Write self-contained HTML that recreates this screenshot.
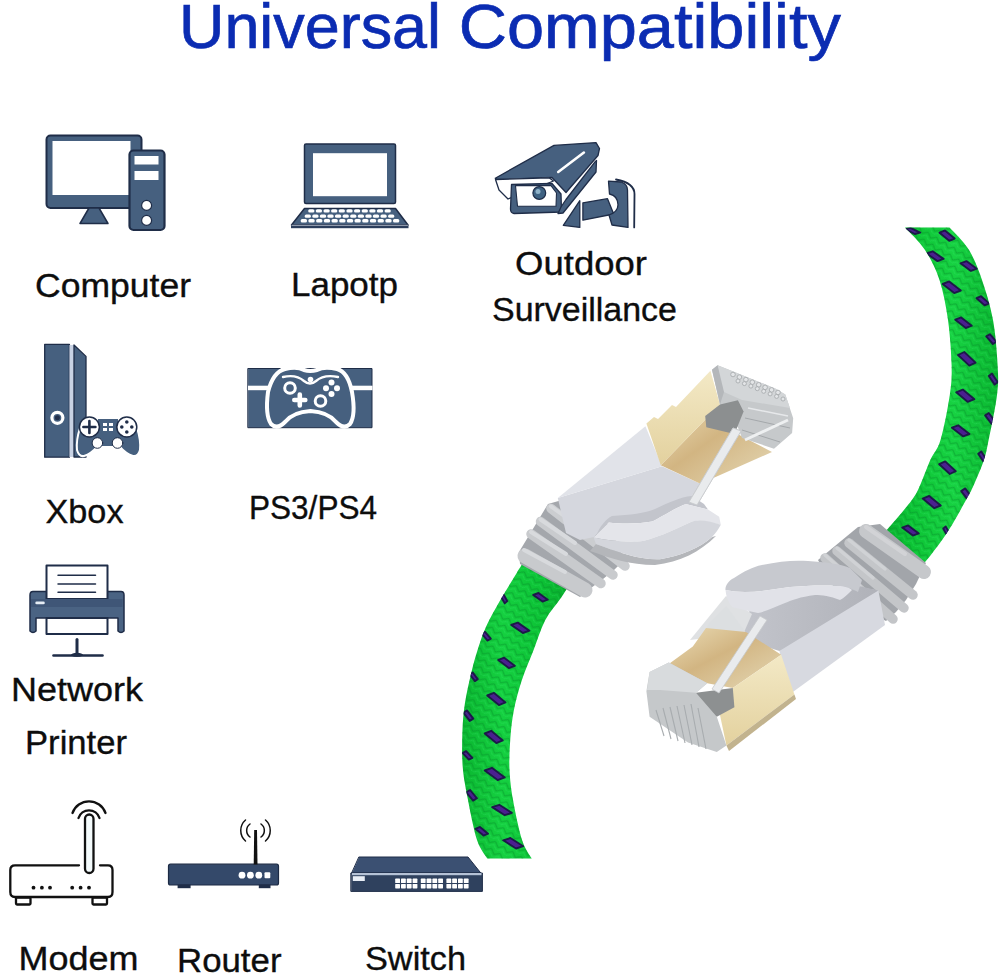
<!DOCTYPE html>
<html><head><meta charset="utf-8">
<style>
html,body{margin:0;padding:0;background:#fff;}
body{width:1000px;height:974px;overflow:hidden;position:relative;}
svg{position:absolute;left:0;top:0;}
.t{font-family:"Liberation Sans",sans-serif;fill:#0d0d0d;}
.ti{font-family:"Liberation Sans",sans-serif;fill:#0b2cb2;}
</style></head><body>
<svg width="1000" height="974" viewBox="0 0 1000 974">

<defs>
<linearGradient id="gT" x1="0" y1="0" x2="1" y2="0">
<stop offset="0" stop-color="#07a02a"/><stop offset="0.3" stop-color="#0cc234"/><stop offset="0.65" stop-color="#17d242"/><stop offset="1" stop-color="#0ab630"/>
</linearGradient>
<linearGradient id="gB" x1="0" y1="0" x2="1" y2="0">
<stop offset="0" stop-color="#0ab630"/><stop offset="0.35" stop-color="#15d040"/><stop offset="0.7" stop-color="#0cc235"/><stop offset="1" stop-color="#07a62a"/>
</linearGradient>
<clipPath id="cclip"><path d="M905.0,227.5 C908.3,231.2 919.2,241.2 925.0,250.0 C930.8,258.8 935.7,268.3 939.5,280.0 C943.3,291.7 946.0,305.8 948.0,320.0 C950.0,334.2 951.3,352.5 951.6,365.0 C951.9,377.5 951.6,382.5 949.8,395.0 C947.9,407.5 943.8,429.2 940.5,440.0 C937.2,450.8 933.7,452.5 930.3,460.0 C926.9,467.5 923.3,478.3 920.2,485.0 C917.1,491.7 917.2,492.8 911.9,500.0 C906.6,507.2 895.5,520.0 888.5,528.0 C881.5,536.0 873.1,544.7 870.0,548.0 L910.0,578.0 C913.0,574.8 921.5,566.5 928.0,558.5 C934.5,550.5 942.5,539.8 948.8,530.0 C955.1,520.2 961.8,507.5 966.0,500.0 C970.2,492.5 970.8,491.7 973.8,485.0 C976.8,478.3 981.4,467.5 983.9,460.0 C986.4,452.5 986.4,450.8 988.6,440.0 C990.8,429.2 995.5,407.5 997.0,395.0 C998.5,382.5 998.3,377.5 997.6,365.0 C996.9,352.5 995.6,334.2 993.0,320.0 C990.4,305.8 986.0,291.7 982.0,280.0 C978.0,268.3 974.4,258.8 969.0,250.0 C963.6,241.2 952.8,231.2 949.5,227.5 Z"/><path d="M545.0,530.0 C540.3,537.2 526.0,558.0 516.7,573.0 C507.4,588.0 495.8,607.2 489.3,620.0 C482.8,632.8 480.9,640.0 477.6,650.0 C474.3,660.0 471.9,670.0 469.6,680.0 C467.3,690.0 465.2,700.0 464.0,710.0 C462.8,720.0 462.4,730.0 462.2,740.0 C462.0,750.0 462.0,760.0 463.0,770.0 C464.0,780.0 465.7,788.3 468.0,800.0 C470.3,811.7 473.8,830.2 477.0,840.0 C480.2,849.8 485.6,855.5 487.3,858.6 L531.7,858.6 C530.1,855.5 525.1,849.8 522.0,840.0 C518.9,830.2 515.1,811.7 513.0,800.0 C510.9,788.3 510.0,780.0 509.5,770.0 C509.0,760.0 509.5,750.0 510.2,740.0 C510.9,730.0 511.9,720.0 513.9,710.0 C515.9,700.0 518.6,690.0 521.9,680.0 C525.2,670.0 529.7,660.0 533.6,650.0 C537.5,640.0 540.7,628.7 545.3,620.0 C549.9,611.3 556.2,605.1 561.2,597.6 C566.2,590.1 572.7,578.8 575.0,575.0 Z"/></clipPath>
<pattern id="braid" width="10" height="8" patternUnits="userSpaceOnUse" patternTransform="rotate(30)">
<path d="M0,1 L5,5 L10,1" fill="none" stroke="#06902a" stroke-width="1.2"/>
<path d="M0,4.5 L5,8.5 L10,4.5" fill="none" stroke="#40f07c" stroke-width="0.8" opacity="0.7"/>
</pattern>
</defs>


<!-- CABLE -->
<g id="cable">
<path d="M905.0,227.5 C908.3,231.2 919.2,241.2 925.0,250.0 C930.8,258.8 935.7,268.3 939.5,280.0 C943.3,291.7 946.0,305.8 948.0,320.0 C950.0,334.2 951.3,352.5 951.6,365.0 C951.9,377.5 951.6,382.5 949.8,395.0 C947.9,407.5 943.8,429.2 940.5,440.0 C937.2,450.8 933.7,452.5 930.3,460.0 C926.9,467.5 923.3,478.3 920.2,485.0 C917.1,491.7 917.2,492.8 911.9,500.0 C906.6,507.2 895.5,520.0 888.5,528.0 C881.5,536.0 873.1,544.7 870.0,548.0 L910.0,578.0 C913.0,574.8 921.5,566.5 928.0,558.5 C934.5,550.5 942.5,539.8 948.8,530.0 C955.1,520.2 961.8,507.5 966.0,500.0 C970.2,492.5 970.8,491.7 973.8,485.0 C976.8,478.3 981.4,467.5 983.9,460.0 C986.4,452.5 986.4,450.8 988.6,440.0 C990.8,429.2 995.5,407.5 997.0,395.0 C998.5,382.5 998.3,377.5 997.6,365.0 C996.9,352.5 995.6,334.2 993.0,320.0 C990.4,305.8 986.0,291.7 982.0,280.0 C978.0,268.3 974.4,258.8 969.0,250.0 C963.6,241.2 952.8,231.2 949.5,227.5 Z" fill="url(#gT)"/>
<path d="M905.0,227.5 C908.3,231.2 919.2,241.2 925.0,250.0 C930.8,258.8 935.7,268.3 939.5,280.0 C943.3,291.7 946.0,305.8 948.0,320.0 C950.0,334.2 951.3,352.5 951.6,365.0 C951.9,377.5 951.6,382.5 949.8,395.0 C947.9,407.5 943.8,429.2 940.5,440.0 C937.2,450.8 933.7,452.5 930.3,460.0 C926.9,467.5 923.3,478.3 920.2,485.0 C917.1,491.7 917.2,492.8 911.9,500.0 C906.6,507.2 895.5,520.0 888.5,528.0 C881.5,536.0 873.1,544.7 870.0,548.0 L910.0,578.0 C913.0,574.8 921.5,566.5 928.0,558.5 C934.5,550.5 942.5,539.8 948.8,530.0 C955.1,520.2 961.8,507.5 966.0,500.0 C970.2,492.5 970.8,491.7 973.8,485.0 C976.8,478.3 981.4,467.5 983.9,460.0 C986.4,452.5 986.4,450.8 988.6,440.0 C990.8,429.2 995.5,407.5 997.0,395.0 C998.5,382.5 998.3,377.5 997.6,365.0 C996.9,352.5 995.6,334.2 993.0,320.0 C990.4,305.8 986.0,291.7 982.0,280.0 C978.0,268.3 974.4,258.8 969.0,250.0 C963.6,241.2 952.8,231.2 949.5,227.5 Z" fill="url(#braid)" opacity="0.5"/>
<path d="M545.0,530.0 C540.3,537.2 526.0,558.0 516.7,573.0 C507.4,588.0 495.8,607.2 489.3,620.0 C482.8,632.8 480.9,640.0 477.6,650.0 C474.3,660.0 471.9,670.0 469.6,680.0 C467.3,690.0 465.2,700.0 464.0,710.0 C462.8,720.0 462.4,730.0 462.2,740.0 C462.0,750.0 462.0,760.0 463.0,770.0 C464.0,780.0 465.7,788.3 468.0,800.0 C470.3,811.7 473.8,830.2 477.0,840.0 C480.2,849.8 485.6,855.5 487.3,858.6 L531.7,858.6 C530.1,855.5 525.1,849.8 522.0,840.0 C518.9,830.2 515.1,811.7 513.0,800.0 C510.9,788.3 510.0,780.0 509.5,770.0 C509.0,760.0 509.5,750.0 510.2,740.0 C510.9,730.0 511.9,720.0 513.9,710.0 C515.9,700.0 518.6,690.0 521.9,680.0 C525.2,670.0 529.7,660.0 533.6,650.0 C537.5,640.0 540.7,628.7 545.3,620.0 C549.9,611.3 556.2,605.1 561.2,597.6 C566.2,590.1 572.7,578.8 575.0,575.0 Z" fill="url(#gB)"/>
<path d="M545.0,530.0 C540.3,537.2 526.0,558.0 516.7,573.0 C507.4,588.0 495.8,607.2 489.3,620.0 C482.8,632.8 480.9,640.0 477.6,650.0 C474.3,660.0 471.9,670.0 469.6,680.0 C467.3,690.0 465.2,700.0 464.0,710.0 C462.8,720.0 462.4,730.0 462.2,740.0 C462.0,750.0 462.0,760.0 463.0,770.0 C464.0,780.0 465.7,788.3 468.0,800.0 C470.3,811.7 473.8,830.2 477.0,840.0 C480.2,849.8 485.6,855.5 487.3,858.6 L531.7,858.6 C530.1,855.5 525.1,849.8 522.0,840.0 C518.9,830.2 515.1,811.7 513.0,800.0 C510.9,788.3 510.0,780.0 509.5,770.0 C509.0,760.0 509.5,750.0 510.2,740.0 C510.9,730.0 511.9,720.0 513.9,710.0 C515.9,700.0 518.6,690.0 521.9,680.0 C525.2,670.0 529.7,660.0 533.6,650.0 C537.5,640.0 540.7,628.7 545.3,620.0 C549.9,611.3 556.2,605.1 561.2,597.6 C566.2,590.1 572.7,578.8 575.0,575.0 Z" fill="url(#braid)" opacity="0.5"/>
<g fill="#4b1f8f" stroke="#1c1a48" stroke-width="1.9" stroke-linejoin="round" clip-path="url(#cclip)">
<polygon points="905.1,229.2 910.5,227.9 920.2,232.7 914.8,234.0"/>
<polygon points="926.6,253.5 932.7,251.3 943.6,258.9 937.5,261.1"/>
<polygon points="942.6,284.0 949.2,281.4 960.8,290.5 954.2,293.1"/>
<polygon points="955.2,319.7 961.2,317.4 971.8,325.7 965.8,328.0"/>
<polygon points="958.0,355.0 964.3,352.0 975.6,362.6 969.3,365.6"/>
<polygon points="956.2,392.3 962.8,389.6 974.4,399.2 967.8,401.9"/>
<polygon points="951.9,427.7 958.2,425.3 969.5,434.0 963.2,436.4"/>
<polygon points="939.2,464.2 945.2,461.4 955.8,471.2 949.8,474.0"/>
<polygon points="922.7,498.6 929.2,495.9 940.8,505.5 934.3,508.2"/>
<polygon points="902.2,527.6 908.2,525.4 918.8,533.4 912.8,535.6"/>
<polygon points="533.2,594.9 538.5,593.0 547.8,599.7 542.5,601.6"/>
<polygon points="511.2,624.9 517.8,622.6 529.5,630.7 522.9,633.0"/>
<polygon points="498.2,660.0 504.2,657.7 514.8,665.8 508.8,668.1"/>
<polygon points="487.2,695.5 493.8,692.8 505.5,702.4 498.9,705.1"/>
<polygon points="484.7,733.5 491.2,730.8 502.8,740.4 496.3,743.1"/>
<polygon points="484.7,770.5 491.9,767.8 504.8,777.4 497.6,780.1"/>
<polygon points="492.2,807.1 499.3,804.8 511.8,812.9 504.7,815.2"/>
<polygon points="503.2,840.3 510.4,838.0 523.2,846.2 516.0,848.5"/>
<polygon points="939.5,232.7 945.0,230.4 954.7,238.5 949.2,240.8"/>
<polygon points="960.5,263.3 966.4,261.1 976.8,268.7 970.9,270.9"/>
<polygon points="976.5,298.2 981.1,296.2 989.2,303.4 984.6,305.4"/>
<polygon points="986.2,336.4 989.9,334.2 996.6,341.8 992.9,344.0"/>
<polygon points="988.8,376.0 992.0,373.6 997.8,382.2 994.6,384.6"/>
<polygon points="985.1,415.4 988.8,413.0 995.3,421.6 991.6,424.0"/>
<polygon points="978.2,453.7 981.3,451.4 986.8,459.7 983.7,462.0"/>
<polygon points="961.2,491.1 965.2,488.4 972.4,497.9 968.4,500.6"/>
<polygon points="943.2,528.6 945.7,526.4 950.2,534.4 947.7,536.6"/>
<polygon points="500.2,595.3 502.8,593.0 507.3,601.1 504.7,603.4"/>
<polygon points="481.7,633.7 485.0,631.8 490.8,638.7 487.5,640.6"/>
<polygon points="469.7,674.3 472.6,672.4 477.8,679.2 474.9,681.1"/>
<polygon points="463.4,712.7 467.0,710.4 473.3,718.6 469.7,720.9"/>
<polygon points="462.5,753.0 466.1,751.2 472.4,757.8 468.8,759.6"/>
<polygon points="466.2,792.3 470.1,790.0 477.0,798.3 473.1,800.6"/>
<polygon points="475.4,828.8 480.0,826.9 488.1,833.7 483.5,835.6"/>
</g>
</g>

<!-- CONNECTORS -->
<defs>
<linearGradient id="goldL" x1="0" y1="0" x2="1" y2="1">
<stop offset="0" stop-color="#eadcb6"/><stop offset="0.45" stop-color="#d2b582"/><stop offset="0.75" stop-color="#dcc89e"/><stop offset="1" stop-color="#e8dcc0"/>
</linearGradient>
<linearGradient id="goldF" x1="0" y1="0" x2="0" y2="1">
<stop offset="0" stop-color="#f3e9c6"/><stop offset="1" stop-color="#e3d19e"/>
</linearGradient>
<linearGradient id="bodyL" x1="0" y1="0" x2="1" y2="1">
<stop offset="0" stop-color="#dcdee2"/><stop offset="1" stop-color="#cdd0d4"/>
</linearGradient>
<linearGradient id="underR" x1="0" y1="0" x2="1" y2="0">
<stop offset="0" stop-color="#c8cad1"/><stop offset="1" stop-color="#b0b2b9"/>
</linearGradient>
</defs>
<g id="connL" stroke-linejoin="round">
<!-- boot base -->
<polygon points="519,552 548,504 562,500 610,525 624,560 614,570 603,579 591,588 580,597 520,564" fill="#a4a7ac"/>
<g stroke-linecap="round" fill="none">
<line x1="551" y1="508.5" x2="625" y2="566" stroke="#cbcdd0" stroke-width="9.5"/>
<line x1="540.5" y1="521.5" x2="613" y2="575" stroke="#c9cbce" stroke-width="9.5"/>
<line x1="531" y1="534" x2="601" y2="583.5" stroke="#c8cacd" stroke-width="9.5"/>
<line x1="525" y1="556" x2="585" y2="590" stroke="#c8cacd" stroke-width="15"/>
<line x1="551" y1="506.5" x2="585" y2="531" stroke="#d8dadd" stroke-width="4"/>
<line x1="540.5" y1="519.5" x2="575" y2="543" stroke="#d8dadd" stroke-width="4"/>
<line x1="531" y1="532" x2="566" y2="554" stroke="#d8dadd" stroke-width="4"/>
<line x1="524" y1="550" x2="565" y2="572" stroke="#d8dadd" stroke-width="4"/>
</g>
<!-- body side face (big) -->
<polygon points="557.8,498 662,466.3 700.4,483.8 691.7,503 650,511.7 608,522.2 594,537 580,540 566,533" fill="#d5d7de"/>
<!-- body top face (narrow) -->
<polygon points="557.8,498 645.4,426.2 662,466.3" fill="#e1e3e9"/>
<!-- hook inner shadow -->
<path d="M596,536 C600,526 606,519 612,516 C630,515 645,513 655,509 C668,503 680,497 692,496 L704,504 L708,509.6 L685.6,504 C675,508 660,518 652,521.6 C640,524 620,524 608.8,522.4 L593.6,537.6 Z" fill="#c3c5cc"/>
<!-- latch guard -->
<path d="M596,544 C620,553 640,560 660,559.2 C680,556 700,548 712,537 L716,536 C700,552 680,562 655,565 C630,565 610,558 590,551 Z" fill="#b4b6ba"/>
<path d="M593.6,537.6 L608.8,522.4 C620,524 640,524 652,521.6 C660,518 675,508 685.6,504 L708,509.6 L719.2,516.8 L720.8,524.8 C710,523 700,519 692,521.6 C680,527 660,537 644,540.8 C630,543 610,541 593.6,537.6 Z" fill="#e4e5ea"/>
<path d="M593.6,537.6 C610,541 630,543 644,540.8 C660,537 680,527 692,521.6 C700,519 712,522 720.8,524.8 C718,530 716,533 712,537 C700,548 680,556 660,559.2 C640,560 620,553 596,544 Z" fill="#d4d6dc"/>
<!-- gold lower -->
<polygon points="660.8,465.2 720,404.4 736,433.2 772,452 700.4,483.8" fill="url(#goldL)"/>
<!-- gold front -->
<polygon points="646.4,423.6 654,417 658,419 672,405 676,407 710.4,370.8 720,404.4 660.8,465.2" fill="url(#goldF)"/>
<!-- clear tip -->
<polygon points="712,369.7 717.6,365.2 734.5,372 776.3,388.9 785.3,394.5 793.2,418.2 792.1,433 774,448.7 742,438 737.9,427.3 720,404.4" fill="#c6c9cb"/>
<polygon points="717.6,365.2 734.5,372 776.3,388.9 785.3,394.5 790,408 742,400 724,392 716,380" fill="#d3d6d8"/>
<g fill="#e3e5e7" stroke="#a3a7aa" stroke-width="0.8">
<circle cx="733.0" cy="374.5" r="2.3"/>
<circle cx="739.4" cy="377.1" r="2.3"/>
<circle cx="745.9" cy="379.6" r="2.3"/>
<circle cx="752.3" cy="382.2" r="2.3"/>
<circle cx="758.7" cy="384.8" r="2.3"/>
<circle cx="765.1" cy="387.4" r="2.3"/>
<circle cx="771.6" cy="389.9" r="2.3"/>
<circle cx="778.0" cy="392.5" r="2.3"/>
<circle cx="738.0" cy="381.0" r="2"/>
<circle cx="744.4" cy="383.6" r="2"/>
<circle cx="750.9" cy="386.1" r="2"/>
<circle cx="757.3" cy="388.7" r="2"/>
<circle cx="763.7" cy="391.3" r="2"/>
<circle cx="770.1" cy="393.9" r="2"/>
<circle cx="776.6" cy="396.4" r="2"/>
<circle cx="783.0" cy="399.0" r="2"/>
</g>
<polygon points="705.2,416 720,404.4 737.9,400.2 743.6,411.5 734.5,434 706.3,427.3" fill="#8c8f90"/>
<polygon points="712,369.7 717.6,365.2 724,392 720,404.4" fill="#b4b7ba"/>
<g stroke="#a4a8ab" stroke-width="1">
<line x1="745" y1="418" x2="790" y2="428"/><line x1="742" y1="430" x2="780" y2="442"/>
</g>
<line x1="748" y1="408" x2="788" y2="416" stroke="#e6e8ea" stroke-width="1.6"/>
<polygon points="733,428 741,431 697,505 689,502" fill="#e9ebed" stroke="#c6c9cc" stroke-width="0.8"/>
</g>
<line x1="745" y1="440" x2="788" y2="420" stroke="#eef0f1" stroke-width="3"/>
<polygon points="733,428 741,431 697,505 689,502" fill="#e9ebed" stroke="#c6c9cc" stroke-width="0.8"/>
</g>
<g id="connR" stroke-linejoin="round">
<!-- boot base -->
<polygon points="818,560 858,527 880,524 926,563 916,584 906,600 896,612 886,621 840,598" fill="#a2a5aa"/>
<g stroke-linecap="round" fill="none">
<line x1="866" y1="531" x2="924" y2="572" stroke="#c6c8cb" stroke-width="14"/>
<line x1="849" y1="543" x2="913" y2="595" stroke="#c4c6c9" stroke-width="9.5"/>
<line x1="837" y1="551" x2="904" y2="608" stroke="#c4c6c9" stroke-width="9.5"/>
<line x1="825" y1="558" x2="893" y2="619" stroke="#c3c5c8" stroke-width="9.5"/>
<line x1="866" y1="527" x2="905" y2="554" stroke="#d2d3d6" stroke-width="4"/>
<line x1="849" y1="540" x2="885" y2="569" stroke="#d0d2d5" stroke-width="3.5"/>
<line x1="837" y1="548" x2="873" y2="578" stroke="#d0d2d5" stroke-width="3.5"/>
<line x1="825" y1="555" x2="860" y2="586" stroke="#d0d2d5" stroke-width="3.5"/>
</g>
<!-- body right face -->
<polygon points="852,586 878.4,590.4 885,625 790.4,693.8 779.4,650.9" fill="#d7d9e0"/>
<!-- body top-left face under latch -->
<polygon points="700,641 728,598 748,612 780,596 850,584 878.4,590.4 779.4,650.9 744,640" fill="url(#underR)"/>
<polygon points="690,640 726,596 752,614 743.6,633.2" fill="#dfe1e3"/>
<!-- latch guard -->
<path d="M725.5,590 C725,586 728,581 734,578 C745,571 752,567 762,565 C780,561 795,560 808,561 C825,562 840,564 850,568 L862,580 L858,592 C850,588 845,586 838,586 C820,585 805,586 790,587 C775,589 760,592 745,592 C738,592 731,591 725.5,590 Z" fill="#c7c9cf"/>
<path d="M725.5,590 C731,591 738,592 745,592 C760,592 775,589 790,587 C805,586 820,585 838,586 C845,586 850,588 852,590 C848,594 844,598 840,600 C830,596 822,595 815,595 C800,597 792,600 785,603 C775,607 765,612 758,613 C748,611 740,609 732,607 C728,602 726,596 725.5,590 Z" fill="#e1e2e8"/>
<!-- clear behind latch -->
<polygon points="700,640 708.6,624 726.2,606 746,632.8 743,640" fill="#dcdfe1"/>
<!-- gold upper -->
<polygon points="668.8,664 692.8,646.4 706,628 746,632 781.2,654.8 732.8,688 707.2,683.2" fill="url(#goldL)"/>
<!-- gold front -->
<polygon points="732.8,688 781.2,654.8 794.4,694.4 726.4,745.6 720,715" fill="url(#goldF)"/>
<polygon points="726.4,745.6 794.4,694.4 796,699 729,751" fill="#c2b38e"/>
<!-- dark block -->
<polygon points="696,692.8 732.8,688 734.4,707.2 716.8,716.8 696,708.8" fill="#8d9091"/>
<!-- clear tip -->
<polygon points="646.4,691.2 649.6,672 668.8,662.4 707.2,683.2 696,692.8 716.8,716.8 726.4,745.6 716.8,752 688,742.4 649.6,716.8" fill="#c5c8ca"/>
<polygon points="649.6,672 668.8,662.4 707.2,683.2 696,692.8 660,690 647,690" fill="#d8dbdd"/>
<g stroke="#a8acaf" stroke-width="1.1">
<line x1="656" y1="710" x2="664" y2="736"/><line x1="663" y1="708" x2="671" y2="739"/><line x1="670" y1="707" x2="678" y2="741"/><line x1="677" y1="706" x2="685" y2="743"/><line x1="684" y1="705" x2="692" y2="745"/><line x1="691" y1="704" x2="699" y2="747"/><line x1="698" y1="708" x2="706" y2="749"/>
</g>
<polygon points="760,616 767,620 719,693 712,689" fill="#e9ebed" stroke="#c6c9cc" stroke-width="0.8"/>
</g>

<!-- ICONS -->
<g id="icons" stroke-linejoin="round" stroke-linecap="round">
<!-- computer -->
<g>
<rect x="46.5" y="135.5" width="95" height="72.5" rx="4" fill="#46607f" stroke="#1f2d48" stroke-width="2"/>
<rect x="52.5" y="141" width="78" height="54" fill="#fff"/>
<polygon points="89,208 99,208 108,223.5 80,223.5" fill="#46607f" stroke="#1f2d48" stroke-width="1.5"/>
<rect x="129.5" y="150.5" width="35" height="79.5" rx="4" fill="#46607f" stroke="#1f2d48" stroke-width="2.2"/>
<rect x="134.5" y="156" width="24" height="8.5" fill="#fff"/>
<rect x="134.5" y="171" width="24" height="9" fill="#fff"/>
<circle cx="146.6" cy="205.4" r="5" fill="#fff" stroke="#1f2d48" stroke-width="1.2"/>
<circle cx="146.6" cy="220.4" r="5" fill="#fff" stroke="#1f2d48" stroke-width="1.2"/>
</g>
<!-- laptop -->
<g>
<rect x="304.5" y="144" width="91" height="59.5" rx="1.5" fill="#46607f" stroke="#1f2d48" stroke-width="1.5"/>
<rect x="313" y="153.2" width="74" height="43" fill="#fff"/>
<polygon points="304.5,208.5 395.5,208.5 408,225 291.5,225" fill="#46607f" stroke="#1f2d48" stroke-width="1.5"/>
<rect x="291" y="225" width="117.5" height="3.2" fill="#2c3e5c"/>
<line x1="292" y1="225.3" x2="407.5" y2="225.3" stroke="#c9d0da" stroke-width="0.8"/>
<g fill="#fff">
<rect x="308.2" y="209.2" width="6.2" height="3.4" rx="1.5"/>
<rect x="315.8" y="209.2" width="6.2" height="3.4" rx="1.5"/>
<rect x="323.5" y="209.2" width="6.2" height="3.4" rx="1.5"/>
<rect x="331.1" y="209.2" width="6.2" height="3.4" rx="1.5"/>
<rect x="338.7" y="209.2" width="6.2" height="3.4" rx="1.5"/>
<rect x="346.4" y="209.2" width="6.2" height="3.4" rx="1.5"/>
<rect x="354.0" y="209.2" width="6.2" height="3.4" rx="1.5"/>
<rect x="361.7" y="209.2" width="6.2" height="3.4" rx="1.5"/>
<rect x="369.3" y="209.2" width="6.2" height="3.4" rx="1.5"/>
<rect x="376.9" y="209.2" width="6.2" height="3.4" rx="1.5"/>
<rect x="384.6" y="209.2" width="6.2" height="3.4" rx="1.5"/>
<rect x="304.7" y="214.4" width="6.2" height="3.4" rx="1.5"/>
<rect x="312.3" y="214.4" width="6.2" height="3.4" rx="1.5"/>
<rect x="319.9" y="214.4" width="6.2" height="3.4" rx="1.5"/>
<rect x="327.4" y="214.4" width="6.2" height="3.4" rx="1.5"/>
<rect x="335.0" y="214.4" width="6.2" height="3.4" rx="1.5"/>
<rect x="342.6" y="214.4" width="6.2" height="3.4" rx="1.5"/>
<rect x="350.2" y="214.4" width="6.2" height="3.4" rx="1.5"/>
<rect x="357.8" y="214.4" width="6.2" height="3.4" rx="1.5"/>
<rect x="365.4" y="214.4" width="6.2" height="3.4" rx="1.5"/>
<rect x="372.9" y="214.4" width="6.2" height="3.4" rx="1.5"/>
<rect x="380.5" y="214.4" width="6.2" height="3.4" rx="1.5"/>
<rect x="388.1" y="214.4" width="6.2" height="3.4" rx="1.5"/>
<rect x="300.7" y="219.0" width="6.3" height="3.4" rx="1.5"/>
<rect x="308.4" y="219.0" width="6.3" height="3.4" rx="1.5"/>
<rect x="316.1" y="219.0" width="6.3" height="3.4" rx="1.5"/>
<rect x="323.8" y="219.0" width="6.3" height="3.4" rx="1.5"/>
<rect x="331.5" y="219.0" width="6.3" height="3.4" rx="1.5"/>
<rect x="339.2" y="219.0" width="6.3" height="3.4" rx="1.5"/>
<rect x="346.9" y="219.0" width="6.3" height="3.4" rx="1.5"/>
<rect x="354.5" y="219.0" width="6.3" height="3.4" rx="1.5"/>
<rect x="362.2" y="219.0" width="6.3" height="3.4" rx="1.5"/>
<rect x="369.9" y="219.0" width="6.3" height="3.4" rx="1.5"/>
<rect x="377.6" y="219.0" width="6.3" height="3.4" rx="1.5"/>
<rect x="385.3" y="219.0" width="6.3" height="3.4" rx="1.5"/>
<rect x="393.0" y="219.0" width="6.3" height="3.4" rx="1.5"/>
</g>
</g>
<!-- camera -->
<g fill="#46607f" stroke="#1f2d48" stroke-width="1.3">
<polygon points="495.3,178.2 554,145.4 596,142.6 599.5,148.5 598,155.5 566,192.5 552,177.5 497,179.5"/>
<line x1="558.2" y1="172" x2="583.9" y2="152.5" stroke="#fff" stroke-width="2.6"/>
<polygon points="495.5,179.5 549,177.8 553.5,181 508,199 499,190" fill="#fff" stroke="#1f2d48" stroke-width="1.3"/>
<path d="M511.5,184.5 L552,183.5 L561,194 L561.5,212 L514,213.5 Q510.5,213 510.5,209 Z"/>
<path d="M515.5,185.6 L551,185.6 L556.5,193 L556,206.2 L517.5,206.2 Z" fill="#fff" stroke="#1f2d48" stroke-width="1.1"/>
<circle cx="539.3" cy="193" r="6.4" fill="#3f6282" stroke="#1f2d48" stroke-width="1.2"/>
<circle cx="538" cy="191.5" r="2.5" fill="#8fb2c8" stroke="none"/>
<polygon points="595.2,161.7 596.5,160.5 596,172 563,213 558,213.5 561,207 566,199.5" />
<polygon points="563.3,225.3 579.8,200.7 579.8,227.4"/>
<polygon points="582.9,202.8 607.5,198.7 613.7,214 582.9,220.2"/>
<path d="M608.5,181.2 L621,182 Q627.5,184 627.5,190 L628,227.4 L612,225 L609,215 Q618,212 618,204.8 Q618,196 609.5,194 Z"/>
<path d="M616,179.5 Q634.5,183 634.5,194 L634.2,227.4" fill="none" stroke="#1f2d48" stroke-width="1.8"/>
</g>
<!-- xbox -->
<g>
<rect x="44.7" y="344.3" width="24.7" height="112.9" fill="#46607f" stroke="#1f2d48" stroke-width="1.3"/>
<rect x="69.4" y="345" width="4.6" height="112" fill="#c8d2e4"/>
<polygon points="74,345 86,356.4 86,457 74,457" fill="#46607f" stroke="#1f2d48" stroke-width="1.3"/>
<circle cx="57.4" cy="417.8" r="5.5" fill="none" stroke="#fff" stroke-width="3.2"/>
<circle cx="57.4" cy="417.8" r="2.5" fill="#22304c"/>
<path d="M80,428 L137,428 Q141,440 140,450 Q138,457 133,456 Q126,454 120,447 L97,447 Q91,454 84,456 Q79,457 77,450 Q76,440 80,428 Z" fill="#46607f" stroke="#fff" stroke-width="2"/>
<rect x="98" y="419" width="20" height="16" fill="#46607f"/>
<circle cx="89.4" cy="427" r="10" fill="#fff" stroke="#1f2d48" stroke-width="1.5"/>
<circle cx="126.8" cy="427" r="10" fill="#fff" stroke="#1f2d48" stroke-width="1.5"/>
<path d="M89.4,421 V433 M83.4,427 H95.4" stroke="#1f2d48" stroke-width="2.6"/>
<g fill="#1f2d48"><circle cx="126.8" cy="422" r="1.8"/><circle cx="126.8" cy="432" r="1.8"/><circle cx="121.8" cy="427" r="1.8"/><circle cx="131.8" cy="427" r="1.8"/></g>
<g fill="#fff"><rect x="103" y="423" width="4" height="3"/><rect x="109" y="423" width="4" height="3"/><rect x="103" y="428" width="4" height="3"/><rect x="109" y="428" width="4" height="3"/></g>
<circle cx="97.4" cy="443" r="5.3" fill="#fff" stroke="#1f2d48" stroke-width="1"/>
<circle cx="117.5" cy="443" r="5.3" fill="#fff" stroke="#1f2d48" stroke-width="1"/>
</g>
<!-- ps -->
<g>
<rect x="248.2" y="368.5" width="123.8" height="59.2" fill="#46607f" stroke="#1f2d48" stroke-width="1"/>
<rect x="248" y="385.7" width="124.5" height="4.5" fill="#fff"/>
<path d="M285,369 Q297,366 304,370 Q310,372 317,370 Q324,366 337,369 Q348,372 352,392 Q356,415 350,424 Q344,430 336,422 Q328,412 310.5,411 Q293,412 285,422 Q277,430 271,424 Q265,415 268,392 Q273,372 285,369 Z" fill="#46607f" stroke="#fff" stroke-width="4"/>
<circle cx="290" cy="388" r="5.3" fill="#46607f" stroke="#fff" stroke-width="3"/>
<circle cx="320.5" cy="401" r="5.3" fill="#46607f" stroke="#fff" stroke-width="3"/>
<path d="M299.8,394.5 V405.5 M294.3,400 H305.3" stroke="#fff" stroke-width="4.6" stroke-linecap="round"/>
<g fill="#fff"><circle cx="331.5" cy="382.5" r="3"/><circle cx="331.5" cy="394" r="3"/><circle cx="326" cy="388.2" r="3"/><circle cx="337" cy="388.2" r="3"/></g>
<circle cx="310.5" cy="379.5" r="2.8" fill="#fff"/>
<path d="M283,377 Q296,374 304,381 Q310,386 316,381 Q324,374 338,377" fill="none" stroke="#fff" stroke-width="2.4"/>
</g>
<!-- printer -->
<g>
<path d="M33,591.5 H121 Q124,591.5 124,595 V631 Q121,634 118,631 V618 H36 V631 Q33,634 30,631 V595 Q30,591.5 33,591.5 Z" fill="#4a6383" stroke="#1f2d48" stroke-width="1.5"/>
<rect x="46.5" y="565.5" width="61" height="33.5" fill="#fff" stroke="#1f2d48" stroke-width="2"/>
<g stroke="#1f2d48" stroke-width="1.5"><line x1="58" y1="575.3" x2="95.5" y2="575.3"/><line x1="58" y1="583.9" x2="95.5" y2="583.9"/><line x1="58" y1="592.2" x2="95.5" y2="592.2"/></g>
<rect x="31" y="599" width="91.5" height="8" fill="#3f5677"/>
<rect x="35.3" y="601.5" width="9.5" height="2.8" rx="1.4" fill="#e6edf5"/>
<rect x="46.5" y="618" width="61" height="16" fill="#fff" stroke="#1f2d48" stroke-width="2"/>
<path d="M77,639.5 V655" stroke="#1f2d48" stroke-width="3"/>
<path d="M53.5,655.5 H102.5" stroke="#1f2d48" stroke-width="2.6"/>
<ellipse cx="77" cy="654.8" rx="6" ry="2" fill="#1f2d48"/>
</g>
<!-- modem -->
<g fill="none" stroke="#111" stroke-width="2.3">
<path d="M79,865.3 H15 Q10.3,865.3 10.3,870 V892 Q10.3,897 15,897 H108 Q112.5,897 112.5,892 V870 Q112.5,865.3 108,865.3 H100"/>
<rect x="85" y="814.5" width="8.5" height="58.5" rx="4.25" fill="#f4fbfc"/>
<path d="M78.5,818 A11,11 0 0 1 99.5,818"/>
<path d="M72.5,813 A17.5,17.5 0 0 1 105.5,813"/>
<rect x="16" y="897.5" width="14.5" height="7" rx="1"/>
<rect x="92.5" y="897.5" width="14.5" height="7" rx="1"/>
<g fill="#111" stroke="none"><circle cx="33.5" cy="887.7" r="1.9"/><circle cx="41.9" cy="887.7" r="1.9"/><circle cx="50" cy="887.7" r="1.9"/><circle cx="72.2" cy="887.7" r="1.9"/><circle cx="80.6" cy="887.7" r="1.9"/><circle cx="89" cy="887.7" r="1.9"/></g>
</g>
<!-- router -->
<g>
<rect x="168.5" y="864.2" width="110" height="20.8" rx="2" fill="#34496a" stroke="#1c2a44" stroke-width="1.2"/>
<rect x="177.6" y="884.5" width="13" height="3.7" fill="#1f2d48"/>
<rect x="258.8" y="884.5" width="11.7" height="3.7" fill="#1f2d48"/>
<g fill="#fff"><circle cx="242" cy="875.2" r="3.4"/><circle cx="250.4" cy="875.2" r="3.4"/><circle cx="258.8" cy="875.2" r="3.4"/><rect x="264.5" y="872.2" width="5.8" height="6" rx="1"/></g>
<polygon points="254.2,830 257,830 257.5,864.5 253.7,864.5" fill="#111"/>
<g fill="none" stroke="#111" stroke-width="1.5">
<path d="M250,824 A8,8 0 0 0 250,837"/>
<path d="M245.5,820 A14,14 0 0 0 245.5,841"/>
<path d="M261,824 A8,8 0 0 1 261,837"/>
<path d="M265.5,820 A14,14 0 0 1 265.5,841"/>
</g>
</g>
<!-- switch -->
<g>
<polygon points="359.2,857 468,857 480.8,873 352,873" fill="#3b5072" stroke="#1f2d48" stroke-width="1"/>
<rect x="351.2" y="873" width="131.2" height="18.4" fill="#2f415e" stroke="#1f2d48" stroke-width="1"/>
<rect x="352" y="873" width="129.5" height="2.2" fill="#b5c2d6"/>
<rect x="352.8" y="876.2" width="12" height="4.8" fill="#e8eef6"/>
<g fill="#fff"><rect x="395.2" y="878.6" width="4.8" height="4.4" rx="0.6"/>
<rect x="401.0" y="878.6" width="4.8" height="4.4" rx="0.6"/>
<rect x="406.8" y="878.6" width="4.8" height="4.4" rx="0.6"/>
<rect x="412.6" y="878.6" width="4.8" height="4.4" rx="0.6"/>
<rect x="395.2" y="884.0" width="4.8" height="4.4" rx="0.6"/>
<rect x="401.0" y="884.0" width="4.8" height="4.4" rx="0.6"/>
<rect x="406.8" y="884.0" width="4.8" height="4.4" rx="0.6"/>
<rect x="412.6" y="884.0" width="4.8" height="4.4" rx="0.6"/>
<rect x="420.8" y="878.6" width="4.8" height="4.4" rx="0.6"/>
<rect x="426.6" y="878.6" width="4.8" height="4.4" rx="0.6"/>
<rect x="432.4" y="878.6" width="4.8" height="4.4" rx="0.6"/>
<rect x="438.2" y="878.6" width="4.8" height="4.4" rx="0.6"/>
<rect x="420.8" y="884.0" width="4.8" height="4.4" rx="0.6"/>
<rect x="426.6" y="884.0" width="4.8" height="4.4" rx="0.6"/>
<rect x="432.4" y="884.0" width="4.8" height="4.4" rx="0.6"/>
<rect x="438.2" y="884.0" width="4.8" height="4.4" rx="0.6"/>
<rect x="446.4" y="878.6" width="4.8" height="4.4" rx="0.6"/>
<rect x="452.2" y="878.6" width="4.8" height="4.4" rx="0.6"/>
<rect x="458.0" y="878.6" width="4.8" height="4.4" rx="0.6"/>
<rect x="463.8" y="878.6" width="4.8" height="4.4" rx="0.6"/>
<rect x="446.4" y="884.0" width="4.8" height="4.4" rx="0.6"/>
<rect x="452.2" y="884.0" width="4.8" height="4.4" rx="0.6"/>
<rect x="458.0" y="884.0" width="4.8" height="4.4" rx="0.6"/>
<rect x="463.8" y="884.0" width="4.8" height="4.4" rx="0.6"/></g>
</g>
</g>


<!-- TITLE -->
<g class="ti" stroke="#0b2cb2" stroke-width="0.7" font-size="63">
<text x="179" y="47.5" textLength="262" lengthAdjust="spacingAndGlyphs">Universal</text>
<text x="458.8" y="47.5" textLength="382" lengthAdjust="spacingAndGlyphs">Compatibility</text>
</g>
<!-- LABELS -->
<g class="t" font-size="34" stroke="#0d0d0d" stroke-width="0.35">
<text x="35" y="296.5" textLength="156" lengthAdjust="spacingAndGlyphs">Computer</text>
<text x="291" y="296" textLength="107" lengthAdjust="spacingAndGlyphs">Lapotp</text>
<text x="515" y="275.3" textLength="132" lengthAdjust="spacingAndGlyphs">Outdoor</text>
<text x="492" y="321" textLength="185" lengthAdjust="spacingAndGlyphs">Surveillance</text>
<text x="45.5" y="523" textLength="78" lengthAdjust="spacingAndGlyphs">Xbox</text>
<text x="249" y="518.7" textLength="128" lengthAdjust="spacingAndGlyphs">PS3/PS4</text>
<text x="11" y="701" textLength="132" lengthAdjust="spacingAndGlyphs">Network</text>
<text x="25" y="753.5" textLength="102" lengthAdjust="spacingAndGlyphs">Printer</text>
<text x="18.5" y="969.6" textLength="120" lengthAdjust="spacingAndGlyphs">Modem</text>
<text x="177" y="972" textLength="104.5" lengthAdjust="spacingAndGlyphs">Router</text>
<text x="365" y="969.7" textLength="101" lengthAdjust="spacingAndGlyphs">Switch</text>
</g>

</svg>
</body></html>
